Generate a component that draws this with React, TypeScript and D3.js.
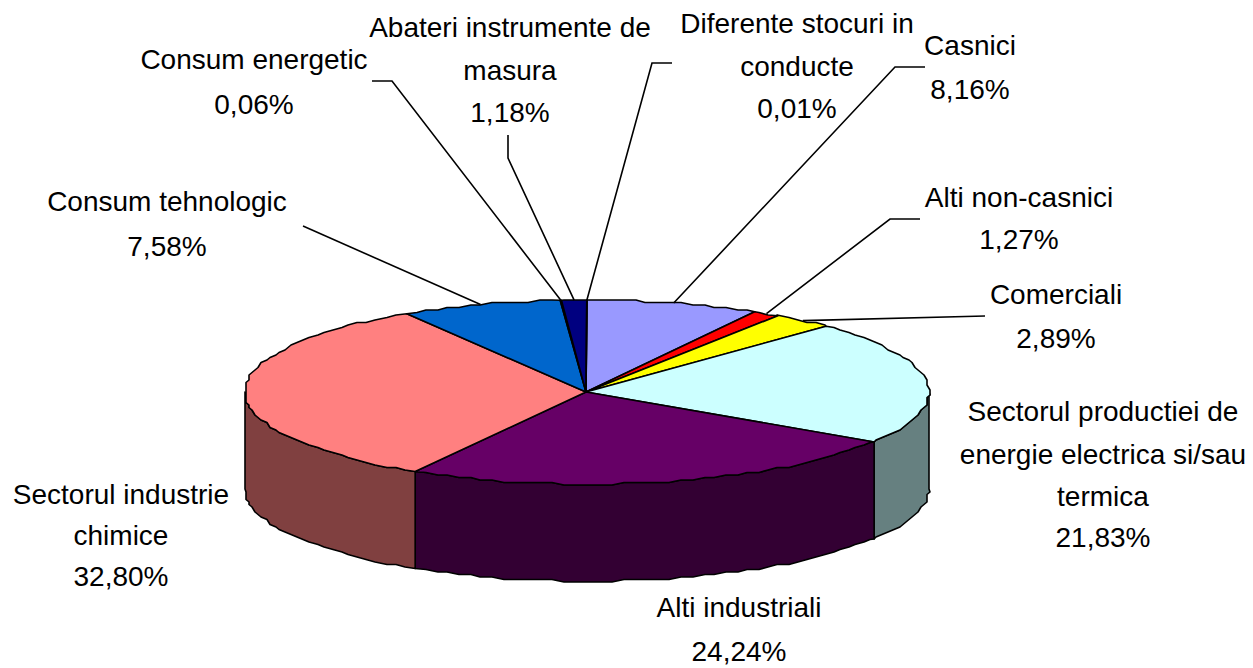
import React from 'react';
import * as d3 from 'd3';

// 3D pie, slices run clockwise from 12 o'clock

const categories = [
  'Casnici',
  'Alti non-casnici',
  'Comerciali',
  'Sectorul productiei de energie electrica si/sau termica',
  'Alti industriali',
  'Sectorul industrie chimice',
  'Consum tehnologic',
  'Consum energetic',
  'Abateri instrumente de masura',
  'Diferente stocuri in conducte',
];
const shares = [8.16, 1.27, 2.89, 21.83, 24.24, 32.8, 7.58, 0.06, 1.18, 0.01];
const shareLabels = ['8,16%', '1,27%', '2,89%', '21,83%', '24,24%', '32,80%', '7,58%', '0,06%', '1,18%', '0,01%'];
const topColors = ['#9999ff', '#ff0000', '#ffff00', '#ccffff', '#660066', '#ff8080', '#0066cc', '#ccccff', '#000080', '#ff00ff'];

const labelLines = [
  ['Casnici'],
  ['Alti non-casnici'],
  ['Comerciali'],
  ['Sectorul productiei de', 'energie electrica si/sau', 'termica'],
  ['Alti industriali'],
  ['Sectorul industrie', 'chimice'],
  ['Consum tehnologic'],
  ['Consum energetic'],
  ['Abateri instrumente de', 'masura'],
  ['Diferente stocuri in', 'conducte'],
];

// label layout: centre x, then one baseline per line
const labelLayout = [
  { x: 970, ys: [55, 99] },
  { x: 1019, ys: [207, 249] },
  { x: 1056, ys: [304, 348] },
  { x: 1103, ys: [421, 464, 506, 547] },
  { x: 739, ys: [617, 661] },
  { x: 121, ys: [504, 545, 586] },
  { x: 167, ys: [211, 256] },
  { x: 254, ys: [69, 114] },
  { x: 510, ys: [37, 80, 122] },
  { x: 797, ys: [33, 76, 118] },
];

// leader start and elbow, the third point is taken from the slice
const leaders: ([number, number][] | null)[] = [
  [[925, 67], [895, 67]],
  [[920, 219], [890, 219]],
  [[985, 316], [985, 316]],
  null,
  null,
  null,
  [[303, 226], [303, 226]],
  [[372, 81], [392, 81]],
  [[508, 135], [508, 158]],
  [[672, 63], [652, 63]],
];

const width = 1253;
const height = 668;
const cx = 586;
const cy = 392;
const rimCx = 587;
const rx = 342;
const ry = 92;
const depth = 97;

const xScale = d3.scaleLinear().domain([-1, 1]).range([rimCx - rx, rimCx + rx]);
const yScale = d3.scaleLinear().domain([-1, 1]).range([cy - ry, cy + ry]);

const slices = d3.pie<number>().sort(null).startAngle(0).endAngle(2 * Math.PI)(shares);

const rimPoint = (a: number): [number, number] => [xScale(Math.sin(a)), yScale(-Math.cos(a))];

// the original rim is rough, snap the samples to a coarse grid
const rough = ([x, y]: [number, number]): [number, number] => [Math.round(x / 3) * 3, Math.round(y / 2.5) * 2.5];

const sampleStep = (2 * Math.PI) / 180;

const rim = (a0: number, a1: number, dy = 0): [number, number][] => {
  const pts: [number, number][] = [rimPoint(a0)];
  for (let k = Math.ceil(a0 / sampleStep + 0.01); k * sampleStep < a1 - 0.005; k++) {
    pts.push(rough(rimPoint(k * sampleStep)));
  }
  pts.push(rimPoint(a1));
  return pts.map(([x, y]) => [x, y + dy] as [number, number]);
};

const line = d3.line();

const darker = (c: string) => {
  const rgb = d3.rgb(c);
  return d3.rgb(rgb.r / 2, rgb.g / 2, rgb.b / 2).formatHex();
};

const App = () => {
  const walls = slices
    .map((s, i) => ({ a0: Math.max(s.startAngle, Math.PI / 2), a1: Math.min(s.endAngle, 1.5 * Math.PI), i }))
    .filter(w => w.a1 > w.a0);

  return (
    <svg
      width={width}
      height={height}
      viewBox={`0 0 ${width} ${height}`}
      style={{ position: 'absolute', left: 0, top: 0, background: '#fff' }}
      fontFamily="'Liberation Sans', Arial, sans-serif"
      fontSize={28}
      fill="#000"
    >
      <g stroke="#000" strokeWidth={1.6} strokeLinejoin="round">
        {walls.map(w => {
          const top = rim(w.a0, w.a1);
          const bottom = rim(w.a0, w.a1, depth).reverse();
          return <path key={w.i} d={line([...top, ...bottom])! + 'Z'} fill={darker(topColors[w.i])} />;
        })}
        {slices.map((s, i) => (
          <path key={i} d={line([[cx, cy], ...rim(s.startAngle, s.endAngle)])! + 'Z'} fill={topColors[i]} />
        ))}
      </g>
      <g stroke="#000" strokeWidth={1.6} fill="none">
        {leaders.map((l, i) => {
          if (!l) return null;
          const mid = (slices[i].startAngle + slices[i].endAngle) / 2;
          return <path key={i} d={line([...l, rimPoint(mid)])!} />;
        })}
      </g>
      <g textAnchor="middle">
        {categories.map((name, i) => {
          const lines = [...labelLines[i], shareLabels[i]];
          return (
            <text key={name}>
              {lines.map((t, j) => (
                <tspan key={j} x={labelLayout[i].x} y={labelLayout[i].ys[j]}>
                  {t}
                </tspan>
              ))}
            </text>
          );
        })}
      </g>
    </svg>
  );
};

export default App;
